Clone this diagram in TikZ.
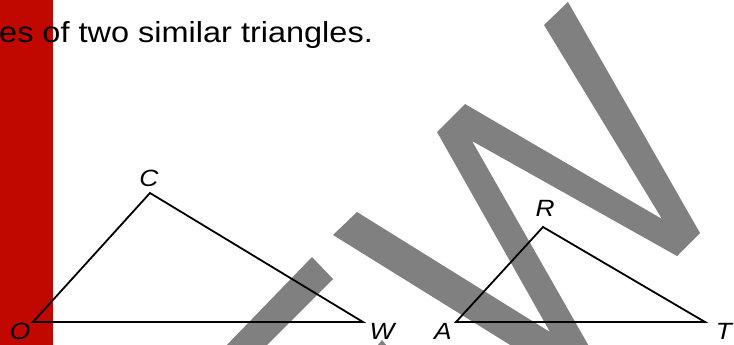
\documentclass[tikz,border=0pt]{standalone}
\usepackage{fontspec}
\setmainfont{Liberation Sans}
\usepackage{graphicx}
\usepackage{tikz}
\usetikzlibrary{positioning}
\definecolor{barred}{RGB}{192, 8, 0}
\definecolor{markgrey}{RGB}{128, 128, 128}
\newcommand{\widetext}[1]{\scalebox{1.12}[1]{#1}}

\begin{document}
\begin{tikzpicture}[x=1pt, y=-1pt,
    vertexlabel/.style={anchor=base, inner sep=0pt, font=\fontsize{23.5}{28}\selectfont\itshape},
    side/.style={line width=1.8pt, line join=miter}]
    \useasboundingbox (0,0) rectangle (734,345);
    \clip (0,0) rectangle (734,345);
    \fill[barred] (0,0) rectangle (52.5,345);
    % grey watermark strokes
    \fill[markgrey] (568,2) -- (700,233) -- (677,256) -- (472,141) -- (631,420)
        -- (333,235) -- (357,212) -- (550,332) -- (437,132) -- (465,104)
        -- (662,219) -- (544,25) -- cycle;
    \fill[markgrey] (312,257) -- (333,279) -- (232,380) -- (193,380) -- cycle;
    \fill[markgrey] (377,346) -- (382,340) -- (387,346) -- cycle;
    \node[anchor=base west, inner sep=0pt, font=\fontsize{29}{34}\selectfont] (caption) at (-1,43)
        {\widetext{es of two similar triangles.}};
    % first triangle
    \coordinate (O) at (33,322);
    \coordinate (C) at (150,193);
    \coordinate (W) at (363,322);
    \draw[side] (O) -- (C) -- (W) -- cycle;
    \node[vertexlabel] (lblO) at (20,339.5) {\widetext{O}};
    \node[vertexlabel] (lblC) at (149,186.5) {\widetext{C}};
    \node[vertexlabel] (lblW) at (382,339.5) {\widetext{W}};
    % second triangle
    \coordinate (A) at (456,322);
    \coordinate (R) at (543,227);
    \coordinate (T) at (705,322);
    \draw[side] (A) -- (R) -- (T) -- cycle;
    \node[vertexlabel] (lblA) at (443,339.5) {\widetext{A}};
    \node[vertexlabel] (lblR) at (545,216.5) {\widetext{R}};
    \node[vertexlabel] (lblT) at (724,339.5) {\widetext{T}};
\end{tikzpicture}
\end{document}
